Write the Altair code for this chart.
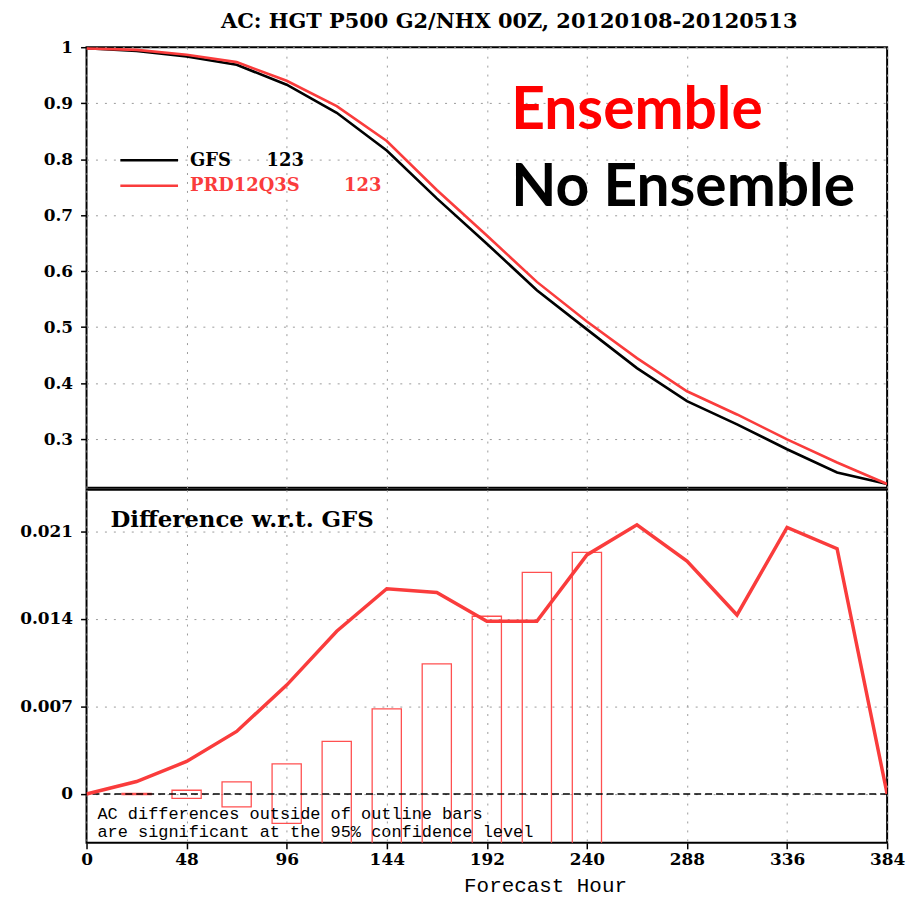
import altair as alt
import pandas as pd

# ---------------- data ----------------
hours = [0, 24, 48, 72, 96, 120, 144, 168, 192, 216, 240, 264, 288, 312, 336, 360, 384]
gfs_ac = [0.998, 0.9935, 0.9835, 0.9686, 0.933, 0.8828, 0.8155, 0.730, 0.649, 0.566,
          0.496, 0.4268, 0.3677, 0.3263, 0.2818, 0.2403, 0.2197]
prd_ac = [0.998, 0.9953, 0.9864, 0.9734, 0.940, 0.8946, 0.8325, 0.745, 0.6637, 0.5808,
          0.510, 0.4446, 0.3854, 0.344, 0.2996, 0.2581, 0.2197]
diff_ac = [0.0, 0.0010, 0.0026, 0.0050, 0.0087, 0.0130, 0.0164, 0.0161, 0.0138, 0.0138,
           0.0191, 0.0215, 0.0186, 0.0143, 0.0213, 0.0196, 0.0]
bar_hours = [24, 48, 72, 96, 120, 144, 168, 192, 216, 240]
bar_upper = [0.00004, 0.0003, 0.00097, 0.0024, 0.0042, 0.0068, 0.0104, 0.0142, 0.0177, 0.0193]
bar_lower = [-0.00004, -0.00035, -0.00102, -0.00235, -0.0042, -0.0068, -0.0104, -0.0142, -0.0177, -0.0193]

x_ticks = [0, 48, 96, 144, 192, 240, 288, 336, 384]
top_ticks = [0.3, 0.4, 0.5, 0.6, 0.7, 0.8, 0.9, 1.0]
bot_ticks = [0, 0.007, 0.014, 0.021]
model_names = ["GFS", "PRD12Q3S"]
model_colors = ["#000000", "#fa3c3c"]

title_text = ["AC: HGT P500 G2/NHX 00Z, 20120108-20120513"]
ens_text = ["Ensemble"]
noens_text = ["No Ensemble"]
legend_label1 = ["GFS"]
legend_label2 = ["PRD12Q3S"]
legend_count = ["123"]
diff_title = ["Difference w.r.t. GFS"]
note_line1 = ["AC differences outside of outline bars"]
note_line2 = ["are significant at the 95% confidence level"]
x_title = "Forecast Hour"

# ---------------- tables ----------------
ac_df = pd.DataFrame({
    "hour": hours * 2,
    "ac": gfs_ac + prd_ac,
    "model": [model_names[0]] * len(hours) + [model_names[1]] * len(hours),
    "order": [0] * len(hours) + [1] * len(hours),
})
diff_df = pd.DataFrame({"hour": hours, "diff": diff_ac})
bar_df = pd.DataFrame({"hour": bar_hours, "lo": bar_lower, "hi": bar_upper})

W = 805
H_TOP = 443
H_BOT = 355
RED = "#fa3c3c"
BOLD_FONT = "DejaVu Serif"

xscale = alt.Scale(domain=[0, 384], nice=False, zero=False)
ytop_scale = alt.Scale(domain=[0.213, 1.0], nice=False, zero=False)
ybot_scale = alt.Scale(domain=[-0.0039, 0.0243], nice=False, zero=False)

x_axis_top = alt.Axis(values=x_ticks, labels=False, ticks=False, domain=False, title=None, grid=True)
y_axis_top = alt.Axis(values=top_ticks, format="~g", title=None, grid=True,
                      tickSize=6, labelPadding=8, domain=False)
x_axis_bot = alt.Axis(values=x_ticks, title=x_title, grid=True, tickSize=6, labelPadding=3,
                      labelFlush=False, labelOverlap=False, domain=False,
                      titleFont="Liberation Mono", titleFontWeight="normal", titleFontSize=21,
                      titleX=461, titleY=49, titleAlign="center", titleBaseline="alphabetic")
y_axis_bot = alt.Axis(values=bot_ticks, format="~g", title=None, grid=True,
                      tickSize=6, labelPadding=8, domain=False)


def txt(values, x, y, size, color="black", font=BOLD_FONT, weight="bold", align="left", baseline="middle"):
    return alt.Chart(pd.DataFrame({"t": values})).mark_text(
        font=font, fontSize=size, fontWeight=weight, color=color,
        align=align, baseline=baseline
    ).encode(text="t:N", x=alt.value(x), y=alt.value(y))


def seg(x1, x2, y, color):
    return alt.Chart(pd.DataFrame({"k": [0]})).mark_rule(color=color, strokeWidth=2.5).encode(
        x=alt.value(x1), x2=alt.value(x2), y=alt.value(y))


# ---------------- top panel ----------------
lines = alt.Chart(ac_df).mark_line(strokeWidth=2.6, clip=True).encode(
    x=alt.X("hour:Q", scale=xscale, axis=x_axis_top),
    y=alt.Y("ac:Q", scale=ytop_scale, axis=y_axis_top),
    color=alt.Color("model:N", scale=alt.Scale(domain=model_names, range=model_colors), legend=None),
    order=alt.Order("order:Q"),
    detail="model:N",
)

top = alt.layer(
    lines,
    seg(34, 92, 113.7, "black"),
    seg(34, 92, 139.3, RED),
    txt(legend_label1, 104, 114, 18),
    txt(legend_count, 181, 114, 18),
    txt(legend_label2, 104, 140, 18, color=RED),
    txt(legend_count, 259, 140, 18, color=RED),
    txt(title_text, 425, -25, 21, align="center"),
    txt(ens_text, 427, 82.7, 59, color="#ff0000", font="Lato", baseline="alphabetic"),
    txt(noens_text, 427, 159.3, 59, color="#000000", font="Lato", baseline="alphabetic"),
).properties(width=W, height=H_TOP)

# ---------------- bottom panel ----------------
bars = alt.Chart(bar_df).transform_calculate(
    x0="datum.hour - 7", x1="datum.hour + 7"
).mark_rect(fillOpacity=0, stroke="#ff5050", strokeWidth=1.3, clip=True).encode(
    x=alt.X("x0:Q", scale=xscale, axis=x_axis_bot),
    x2="x1:Q",
    y=alt.Y("lo:Q", scale=ybot_scale, axis=y_axis_bot),
    y2="hi:Q",
)

diff_line = alt.Chart(diff_df).mark_line(color=RED, strokeWidth=3.5, clip=True).encode(
    x=alt.X("hour:Q", scale=xscale, axis=x_axis_bot),
    y=alt.Y("diff:Q", scale=ybot_scale, axis=y_axis_bot),
)

zero_rule = alt.Chart(pd.DataFrame({"z": [0]})).mark_rule(
    color="black", strokeDash=[7, 4], strokeWidth=1.5
).encode(y=alt.Y("z:Q", scale=ybot_scale, axis=y_axis_bot))

bottom = alt.layer(
    bars,
    zero_rule,
    diff_line,
    txt(diff_title, 24, 30, 23),
    txt(note_line1, 11, 326, 17, font="Liberation Mono", weight="normal"),
    txt(note_line2, 11, 344, 17, font="Liberation Mono", weight="normal"),
).properties(width=W, height=H_BOT)

chart = alt.vconcat(top, bottom, spacing=0).properties(
    padding={"left": 18, "top": 8, "right": 5, "bottom": 2},
    background="white",
).configure_view(
    stroke="black", strokeWidth=2
).configure_axis(
    labelFont=BOLD_FONT, labelFontWeight="bold", labelFontSize=17, labelColor="black",
    tickColor="black", tickWidth=1.5, gridColor="#9a9a9a", gridDash=[2, 7], gridWidth=1,
)

chart.save("out.html", embed_options={"renderer": "svg", "actions": False})
